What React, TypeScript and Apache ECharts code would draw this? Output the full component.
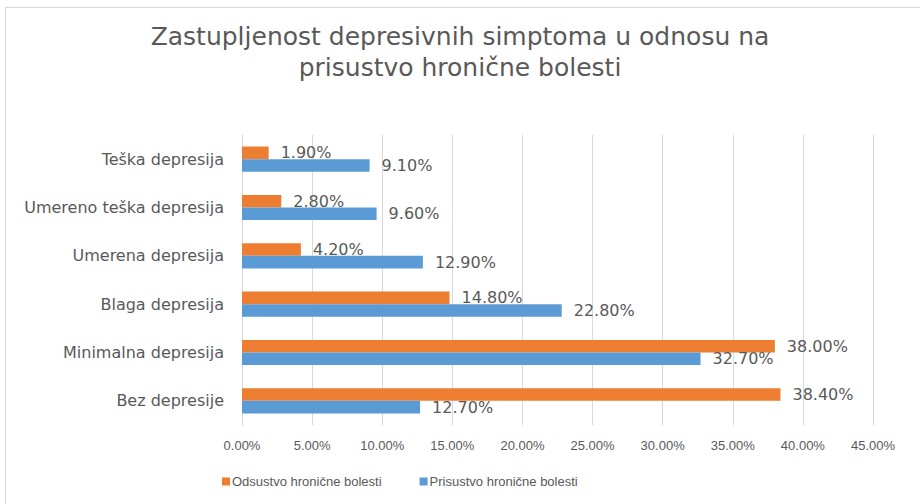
import React, { useEffect, useRef } from "react";
import * as echarts from "echarts";

const titleText = "Zastupljenost depresivnih simptoma u odnosu na\nprisustvo hronične bolesti";
const categories = [
  "Teška depresija",
  "Umereno teška depresija",
  "Umerena depresija",
  "Blaga depresija",
  "Minimalna depresija",
  "Bez depresije",
];
const seriesNames = ["Odsustvo hronične bolesti", "Prisustvo hronične bolesti"];
const odsustvo = [1.9, 2.8, 4.2, 14.8, 38.0, 38.4];
const prisustvo = [9.1, 9.6, 12.9, 22.8, 32.7, 12.7];
const axisMin = 0;
const axisMax = 45;
const axisInterval = 5;

const TEXT = "#595959";
const GRID = "#d9d9d9";
const ORANGE = "#ED7D31";
const BLUE = "#5B9BD5";

export default function App() {
  const ref = useRef<HTMLDivElement>(null);
  useEffect(() => {
    if (!ref.current) return;
    const chart = echarts.init(ref.current, undefined, { renderer: "svg" });
    const labelCfg = {
      show: true,
      position: "right" as const,
      distance: 12,
      color: TEXT,
      fontFamily: "DejaVu Sans",
      fontSize: 16,
      formatter: (p: any) => Number(p.value).toFixed(2) + "%",
    };
    chart.setOption({
      animation: false,
      backgroundColor: "#ffffff",
      title: {
        text: titleText,
        left: "center",
        top: 16,
        textStyle: {
          color: TEXT,
          fontFamily: "DejaVu Sans",
          fontSize: 25,
          fontWeight: "normal",
          lineHeight: 31,
        },
      },
      graphic: [
        {
          type: "rect",
          shape: { x: 5.5, y: 7.5, width: 1000, height: 1000 },
          style: { fill: "none", stroke: GRID, lineWidth: 1 },
          silent: true,
        },
      ],
      legend: {
        data: seriesNames,
        left: 217,
        top: 470,
        itemWidth: 8,
        itemHeight: 8,
        itemGap: 38,
        icon: "rect",
        textStyle: { color: TEXT, fontFamily: "Liberation Sans", fontSize: 13, padding: [0, 0, 0, -3] },
      },
      grid: { left: 242, right: 47, top: 135, bottom: 79, containLabel: false },
      xAxis: {
        type: "value",
        min: axisMin,
        max: axisMax,
        interval: axisInterval,
        axisLine: { show: false },
        axisTick: { show: false },
        splitLine: { show: true, lineStyle: { color: GRID, width: 1 } },
        axisLabel: {
          color: TEXT,
          fontFamily: "Liberation Sans",
          fontSize: 13,
          margin: 14,
          formatter: (v: number) => v.toFixed(2) + "%",
        },
      },
      yAxis: {
        type: "category",
        data: categories,
        inverse: true,
        axisLine: { show: true, lineStyle: { color: GRID } },
        axisTick: { show: false },
        axisLabel: { color: TEXT, fontFamily: "DejaVu Sans", fontSize: 16, margin: 18 },
      },
      series: [
        {
          name: seriesNames[0],
          type: "bar",
          data: odsustvo,
          itemStyle: { color: ORANGE },
          barGap: "0%",
          barCategoryGap: "48%",
          label: labelCfg,
        },
        {
          name: seriesNames[1],
          type: "bar",
          data: prisustvo,
          itemStyle: { color: BLUE },
          barGap: "0%",
          barCategoryGap: "48%",
          label: labelCfg,
        },
      ],
    });
    return () => chart.dispose();
  }, []);
  return (
    <div
      ref={ref}
      style={{ position: "fixed", left: 0, top: 0, width: 920, height: 504 }}
    />
  );
}
